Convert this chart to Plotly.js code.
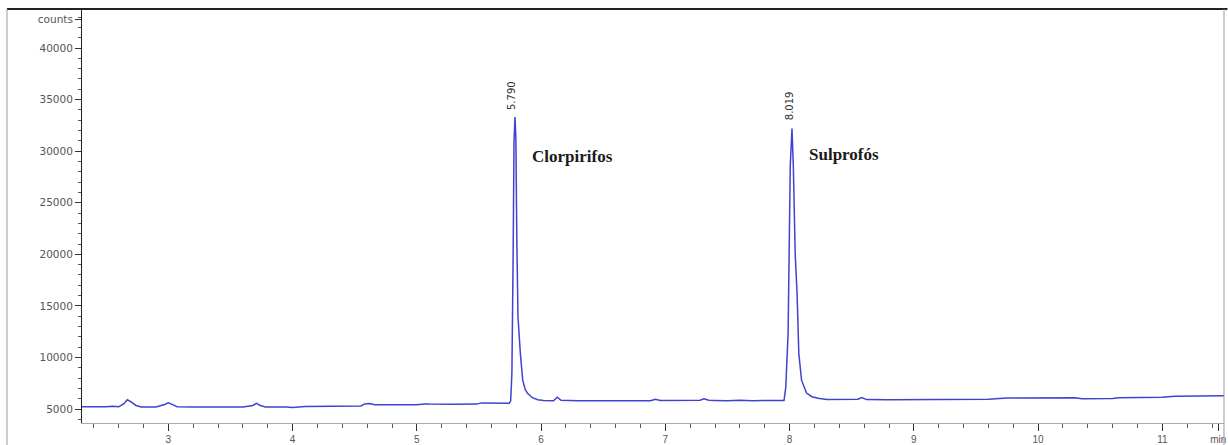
<!DOCTYPE html>
<html>
<head>
<meta charset="utf-8">
<script src="https://cdn.plot.ly/plotly-3.0.1.min.js"></script>
<style>html,body{margin:0;padding:0;background:#fff;}#chart{width:1228px;height:445px;}</style>
</head>
<body>
<div id="chart"></div>
<script>
// Retention time (min)
const timeMin = [
  2.30, 2.40, 2.50, 2.55, 2.60, 2.64, 2.67, 2.70, 2.74, 2.78, 2.90, 2.97, 3.00, 3.03, 3.07,
  3.20, 3.40, 3.44, 3.48, 3.60, 3.68, 3.71, 3.74, 3.78, 3.95, 4.00, 4.10, 4.30, 4.55, 4.58,
  4.62, 4.66, 4.80, 5.00, 5.06, 5.10, 5.30, 5.48, 5.52, 5.70, 5.745, 5.755, 5.765, 5.775, 5.782,
  5.790, 5.797, 5.805, 5.814, 5.833, 5.852, 5.872, 5.892, 5.93, 5.972, 6.02, 6.10, 6.13, 6.16,
  6.30, 6.40, 6.45, 6.60, 6.88, 6.92, 6.96, 7.20, 7.28, 7.31, 7.35, 7.40, 7.50, 7.60, 7.70,
  7.80, 7.90, 7.955, 7.969, 7.988, 8.005, 8.019, 8.030, 8.045, 8.060, 8.074, 8.096, 8.136, 8.18,
  8.229, 8.30, 8.50, 8.55, 8.58, 8.62, 8.80, 9.00, 9.30, 9.60, 9.75, 10.00, 10.30, 10.35, 10.60,
  10.65, 11.00, 11.10, 11.30, 11.50
];
// Detector signal (counts)
const counts = [
  5220, 5200, 5220, 5270, 5220, 5500, 5900, 5700, 5350, 5200, 5200, 5450, 5600, 5450, 5230,
  5200, 5210, 5160, 5230, 5210, 5350, 5550, 5350, 5200, 5200, 5160, 5260, 5280, 5300, 5500,
  5550, 5430, 5420, 5430, 5500, 5480, 5470, 5480, 5600, 5560, 5560, 5800, 8500, 20000, 31000,
  33300, 31200, 21000, 13900, 10400, 7800, 6900, 6500, 6100, 5900, 5820, 5800, 6150, 5850,
  5800, 5820, 5780, 5800, 5800, 5950, 5830, 5800, 5850, 6000, 5850, 5830, 5800, 5850, 5800,
  5830, 5800, 5820, 7100, 12400, 28500, 32200, 28500, 20000, 16200, 10400, 7800, 6550, 6200,
  6050, 5920, 5900, 5950, 6120, 5920, 5900, 5900, 5920, 5950, 6080, 6100, 6100, 6000, 6020,
  6100, 6150, 6250, 6280, 6300
];
// Peak labels
const peakTimes = [5.790, 8.019];
const peakTimeText = ["5.790", "8.019"];
const peakTextY = [35350, 34450];
const compoundNames = ["Clorpirifos", "Sulprofós"];
const compoundX = [5.908, 8.138];
const compoundY = [29450, 29650];
// Axis ticks
const yTickVals = [5000, 10000, 15000, 20000, 25000, 30000, 35000, 40000, 42800];
const yTickText = ["5000", "10000", "15000", "20000", "25000", "30000", "35000", "40000", "counts"];
const xTickVals = [3, 4, 5, 6, 7, 8, 9, 10, 11, 11.45];
const xTickText = ["3", "4", "5", "6", "7", "8", "9", "10", "11", "min"];

const trace = {
  x: timeMin, y: counts, type: 'scatter', mode: 'lines',
  line: {color: '#4141d2', width: 1.5}, hoverinfo: 'x+y'
};

const annotations = [];
peakTimes.forEach((t, i) => {
  annotations.push({
    x: t, y: peakTextY[i], xref: 'x', yref: 'y', text: peakTimeText[i],
    textangle: -90, showarrow: false, xshift: -3,
    font: {family: 'DejaVu Sans, Arial, sans-serif', size: 10, color: '#333'}
  });
  annotations.push({
    x: compoundX[i], y: compoundY[i], xref: 'x', yref: 'y', text: compoundNames[i],
    xanchor: 'left', yanchor: 'middle', showarrow: false,
    font: {family: 'Liberation Serif, Times New Roman, serif', size: 17, color: '#1a1a1a', weight: 'bold'}
  });
});

const plotW = 1228 - 82 - 4;
const plotH = 445 - 9 - 22;
const frameX = -75 / plotW;
const frameBottom = -22 / plotH;

const layout = {
  width: 1228, height: 445,
  margin: {l: 82, r: 4, t: 9, b: 22, pad: 0},
  paper_bgcolor: '#fff', plot_bgcolor: '#fff',
  showlegend: false,
  xaxis: {
    range: [2.305, 11.496], showgrid: false, zeroline: false,
    showline: true, linecolor: '#aaa', linewidth: 1,
    tickmode: 'array', tickvals: xTickVals, ticktext: xTickText,
    ticks: 'outside', ticklen: 7, tickwidth: 1, tickcolor: '#333',
    minor: {dtick: 0.2, ticks: 'outside', ticklen: 4, tickwidth: 1, tickcolor: '#555', showgrid: false},
    tickfont: {family: 'Liberation Sans, Arial, sans-serif', size: 10, color: '#555'}
  },
  yaxis: {
    range: [3650, 43780], showgrid: false, zeroline: false,
    showline: true, linecolor: '#222', linewidth: 1,
    tickmode: 'array', tickvals: yTickVals, ticktext: yTickText,
    ticks: 'outside', ticklen: 6, tickwidth: 1, tickcolor: '#333',
    minor: {dtick: 1000, tick0: 0, ticks: 'outside', ticklen: 3, tickwidth: 1, tickcolor: '#555', showgrid: false},
    tickfont: {family: 'DejaVu Sans, Arial, sans-serif', size: 10.5, color: '#555'}
  },
  annotations: annotations,
  shapes: [
    {type: 'line', xref: 'paper', yref: 'paper', x0: frameX, x1: 1.003, y0: 1, y1: 1, line: {color: '#222', width: 2}},
    {type: 'line', xref: 'paper', yref: 'paper', x0: frameX, x1: frameX, y0: frameBottom, y1: 1, line: {color: '#999', width: 1}},
    {type: 'line', xref: 'paper', yref: 'paper', x0: 1, x1: 1, y0: frameBottom, y1: 1, line: {color: '#999', width: 1}}
  ]
};

Plotly.newPlot('chart', [trace], layout, {staticPlot: true, displayModeBar: false});
</script>
</body>
</html>
